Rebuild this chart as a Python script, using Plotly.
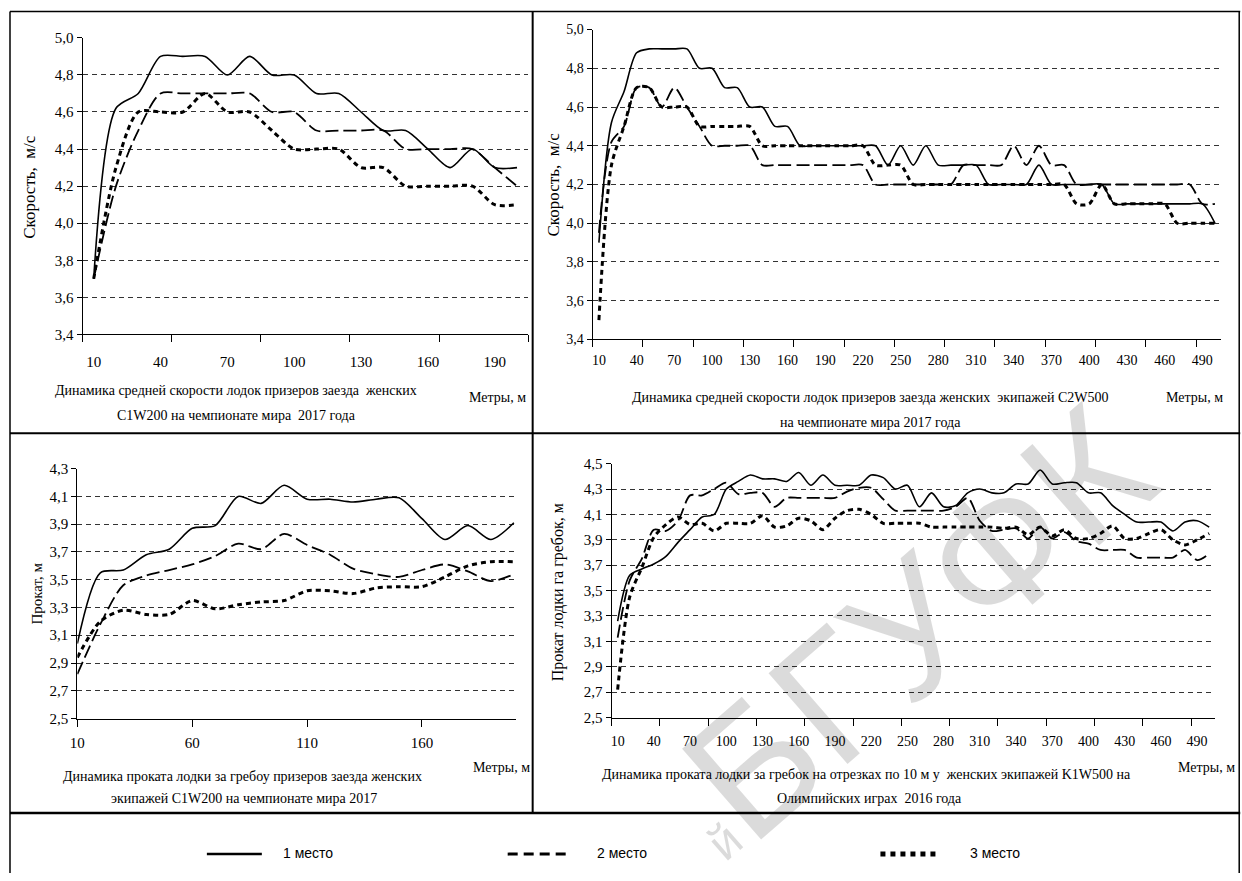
import plotly.graph_objects as go

W, H = 1242, 881

# ---------------- data ----------------
# Panel 1: C1W200 speed, m/s
p1_dist = list(range(10, 201, 10))
p1_place1 = [3.70, 4.62, 4.70, 4.90, 4.90, 4.90, 4.80, 4.90, 4.80, 4.80,
             4.70, 4.70, 4.60, 4.50, 4.50, 4.40, 4.30, 4.40, 4.30, 4.30]
p1_place2 = [3.70, 4.20, 4.50, 4.70, 4.70, 4.70, 4.70, 4.70, 4.60, 4.60,
             4.50, 4.50, 4.50, 4.50, 4.40, 4.40, 4.40, 4.40, 4.30, 4.20]
p1_place3 = [3.70, 4.30, 4.60, 4.60, 4.60, 4.70, 4.60, 4.60, 4.50, 4.40,
             4.40, 4.40, 4.30, 4.30, 4.20, 4.20, 4.20, 4.20, 4.10, 4.10]
p1_ticks = [10, 40, 70, 100, 130, 160, 190]

# Panel 2: C2W500 speed, m/s
p2_dist = list(range(10, 501, 10))
p2_place1 = [3.90, 4.52, 4.68, 4.88, 4.90, 4.90, 4.90, 4.90, 4.80, 4.80,
             4.70, 4.70, 4.60, 4.60, 4.50, 4.50, 4.40, 4.40, 4.40, 4.40,
             4.40, 4.40, 4.40, 4.30, 4.40, 4.30, 4.40, 4.30, 4.30, 4.30,
             4.30, 4.20, 4.20, 4.20, 4.20, 4.30, 4.20, 4.20, 4.20, 4.20,
             4.20, 4.10, 4.10, 4.10, 4.10, 4.10, 4.10, 4.10, 4.10, 4.00]
p2_place2 = [3.95, 4.42, 4.50, 4.70, 4.70, 4.60, 4.70, 4.60, 4.50, 4.40,
             4.40, 4.40, 4.40, 4.30, 4.30, 4.30, 4.30, 4.30, 4.30, 4.30,
             4.30, 4.30, 4.20, 4.20, 4.20, 4.20, 4.20, 4.20, 4.20, 4.30,
             4.30, 4.30, 4.30, 4.40, 4.30, 4.40, 4.30, 4.30, 4.20, 4.20,
             4.20, 4.20, 4.20, 4.20, 4.20, 4.20, 4.20, 4.20, 4.10, 4.10]
p2_place3 = [3.50, 4.30, 4.50, 4.70, 4.70, 4.60, 4.60, 4.60, 4.50, 4.50,
             4.50, 4.50, 4.50, 4.40, 4.40, 4.40, 4.40, 4.40, 4.40, 4.40,
             4.40, 4.40, 4.30, 4.30, 4.30, 4.20, 4.20, 4.20, 4.20, 4.20,
             4.20, 4.20, 4.20, 4.20, 4.20, 4.20, 4.20, 4.20, 4.10, 4.10,
             4.20, 4.10, 4.10, 4.10, 4.10, 4.10, 4.00, 4.00, 4.00, 4.00]
p2_ticks = [10, 40, 70, 100, 130, 160, 190, 220, 250, 280, 310, 340, 370,
            400, 430, 460, 490]

# Panel 3: C1W200 distance per stroke, m
p3_dist = list(range(10, 201, 10))
p3_place1 = [3.04, 3.55, 3.57, 3.68, 3.72, 3.87, 3.89, 4.10, 4.05, 4.18,
             4.08, 4.08, 4.06, 4.08, 4.09, 3.94, 3.79, 3.89, 3.79, 3.91]
p3_place2 = [2.82, 3.18, 3.46, 3.53, 3.57, 3.61, 3.67, 3.76, 3.72, 3.83,
             3.75, 3.68, 3.58, 3.54, 3.52, 3.57, 3.61, 3.56, 3.49, 3.54]
p3_place3 = [2.94, 3.20, 3.28, 3.25, 3.25, 3.35, 3.29, 3.32, 3.34, 3.35,
             3.42, 3.42, 3.40, 3.44, 3.45, 3.45, 3.52, 3.60, 3.63, 3.63]
p3_ticks = [10, 60, 110, 160]

# Panel 4: K1W500 distance per stroke, m
p4_dist = list(range(10, 501, 10))
p4_place1 = [3.26, 3.62, 3.67, 3.71, 3.77, 3.88, 3.98, 4.08, 4.10, 4.30,
             4.36, 4.41, 4.38, 4.38, 4.36, 4.43, 4.33, 4.41, 4.33, 4.33,
             4.33, 4.41, 4.39, 4.30, 4.33, 4.16, 4.27, 4.16, 4.17, 4.27,
             4.30, 4.27, 4.27, 4.34, 4.34, 4.45, 4.34, 4.35, 4.35, 4.27,
             4.27, 4.17, 4.10, 4.04, 4.04, 4.04, 3.97, 4.04, 4.05, 4.00]
p4_place2 = [3.13, 3.58, 3.75, 3.98, 3.97, 4.05, 4.25, 4.25, 4.30, 4.35,
             4.26, 4.27, 4.27, 4.16, 4.23, 4.23, 4.23, 4.23, 4.23, 4.28,
             4.31, 4.31, 4.22, 4.13, 4.13, 4.13, 4.13, 4.13, 4.16, 4.23,
             4.05, 3.97, 3.98, 3.99, 3.91, 4.00, 3.91, 3.96, 3.89, 3.87,
             3.82, 3.82, 3.82, 3.76, 3.76, 3.76, 3.76, 3.82, 3.74, 3.79]
p4_place3 = [2.72, 3.45, 3.68, 3.92, 4.02, 4.08, 4.02, 4.03, 3.97, 4.03,
             4.03, 4.03, 4.09, 4.00, 4.01, 4.07, 4.05, 3.98, 4.07, 4.13,
             4.14, 4.10, 4.03, 4.03, 4.03, 4.03, 4.00, 4.00, 4.00, 4.00,
             4.00, 4.00, 3.99, 4.00, 3.94, 4.00, 3.93, 3.98, 3.91, 3.91,
             3.95, 4.01, 3.91, 3.91, 3.95, 3.98, 3.90, 3.86, 3.90, 3.95]
p4_ticks = p2_ticks

legend_names = ["1 место", "2 место", "3 место"]

# ---------------- helpers (target picture pixels -> paper fractions) ----------------
SX, OX = 0.995, 6.0
SY, OY = 0.98, 8.5


def fx(x):
    p = (x - OX) / SX
    return min(max(p / W, 0.0), 1.0)


def fy(y):
    p = (y - OY) / SY
    return min(max(1 - p / H, 0.0), 1.0)


SERIF = "Liberation Serif"
NARROW = "Liberation Sans Narrow, Liberation Sans"

styles = [
    dict(color="black", width=1.6, dash="solid"),
    dict(color="black", width=1.8, dash="13px,5px"),
    dict(color="black", width=3.0, dash="5px,4px"),
]

fig = go.Figure()

panels = [
    (p1_dist, [p1_place1, p1_place2, p1_place3], "x", "y"),
    (p2_dist, [p2_place1, p2_place2, p2_place3], "x2", "y2"),
    (p3_dist, [p3_place1, p3_place2, p3_place3], "x3", "y3"),
    (p4_dist, [p4_place1, p4_place2, p4_place3], "x4", "y4"),
]
for dist, series, xa, ya in panels:
    for k, vals in enumerate(series):
        st = styles[k]
        fig.add_trace(go.Scatter(
            x=dist, y=vals, xaxis=xa, yaxis=ya, mode="lines",
            name=legend_names[k], showlegend=False, hoverinfo="skip",
            line=dict(color=st["color"], width=st["width"], dash=st["dash"],
                      shape="spline", smoothing=0.8),
        ))

grid = dict(showgrid=True, gridcolor="#333333", gridwidth=1, griddash="5px,4px")


def yaxis_cfg(dom_top, dom_bot, rng, size, anchor):
    return dict(domain=[fy(dom_bot), fy(dom_top)], range=rng, anchor=anchor,
                tickmode="linear", tick0=rng[0], dtick=0.2, tickformat=".1f",
                ticks="outside", ticklen=5, tickcolor="black",
                showline=True, linecolor="black", linewidth=1, zeroline=False,
                tickfont=dict(family=SERIF, size=size, color="black"),
                **grid)


def xaxis_cfg(dom_l, dom_r, rng, tickvals, size, anchor, tick0, dtick, standoff):
    return dict(domain=[fx(dom_l), fx(dom_r)], range=rng, anchor=anchor,
                tickmode="array", tickvals=tickvals,
                ticktext=[str(v) for v in tickvals],
                showline=True, linecolor="black", linewidth=1, zeroline=False,
                showgrid=False, ticks="",
                minor=dict(ticks="outside", ticklen=7, tickcolor="black",
                           tickmode="linear", tick0=tick0, dtick=dtick,
                           showgrid=False),
                tickfont=dict(family=SERIF, size=size, color="black"),
                ticklabelstandoff=standoff)


fig.update_layout(
    width=W, height=H, autosize=False,
    margin=dict(l=0, r=0, t=0, b=0),
    paper_bgcolor="white", plot_bgcolor="white",
    separators=", ",
    showlegend=False,
    xaxis=xaxis_cfg(81.6, 527.5, [5, 205], p1_ticks, 15, "y", 5, 40, 14),
    yaxis=yaxis_cfg(38.3, 334.3, [3.4, 5.0], 15, "x"),
    xaxis2=xaxis_cfg(592, 1221, [5, 505], p2_ticks, 14, "y2", 5, 40, 8),
    yaxis2=yaxis_cfg(30, 339.3, [3.4, 5.0], 14, "x2"),
    xaxis3=xaxis_cfg(76.4, 515.5, [10, 201], p3_ticks, 15, "y3", 10, 50, 10),
    yaxis3=yaxis_cfg(468.3, 717.7, [2.5, 4.3], 15, "x3"),
    xaxis4=xaxis_cfg(611, 1215, [5, 505], p4_ticks, 14, "y4", 5, 40, 11),
    yaxis4=yaxis_cfg(463.3, 716.7, [2.5, 4.5], 15, "x4"),
)

# ---------------- frame lines ----------------
def hline(y, x0, x1, w=1.5):
    fig.add_shape(type="line", xref="paper", yref="paper",
                  x0=fx(x0), x1=fx(x1), y0=fy(y), y1=fy(y),
                  line=dict(color="black", width=w))


def vline(x, y0, y1, w=1.5):
    fig.add_shape(type="line", xref="paper", yref="paper",
                  x0=fx(x), x1=fx(x), y0=fy(y0), y1=fy(y1),
                  line=dict(color="black", width=w))


hline(12, 9, 1240, 1.5)
hline(433, 9, 1240, 2)
hline(812, 9, 1240, 2.5)
vline(9, 12, 881, 1.5)
vline(1239, 12, 881, 1.5)
vline(532, 12, 812, 2)

# ---------------- legend row ----------------
legend_samples = [
    (206, 261, dict(color="black", width=2.5, dash="solid"), 280),
    (507, 567, dict(color="black", width=3, dash="10px,6px"), 594),
    (880, 939, dict(color="black", width=5, dash="5px,5px"), 968),
]
for (x0, x1, ln, tx), name in zip(legend_samples, legend_names):
    fig.add_shape(type="line", xref="paper", yref="paper",
                  x0=fx(x0), x1=fx(x1), y0=fy(853), y1=fy(853), line=ln)
    fig.add_annotation(x=fx(tx), y=fy(852), xref="paper", yref="paper",
                       text=name, showarrow=False, xanchor="left", yanchor="middle",
                       font=dict(family=NARROW, size=14, color="black"))

# ---------------- texts ----------------
def note(text, x, y, size=14, angle=0, anchor="center", family=SERIF):
    fig.add_annotation(x=fx(x), y=fy(y), xref="paper", yref="paper", text=text,
                       showarrow=False, xanchor=anchor, yanchor="middle",
                       textangle=angle,
                       font=dict(family=family, size=size, color="black"))


# y-axis titles
note("Скорость,  м/с", 29, 187, size=17, angle=-90)
note("Скорость,  м/с", 553, 185, size=17, angle=-90)
note("Прокат, м", 36, 593, size=15, angle=-90)
note("Прокат лодки га гребок, м", 557, 592, size=16, angle=-90)

# captions
note("Динамика средней скорости лодок призеров заезда  женских", 235, 390)
note("C1W200 на чемпионате мира  2017 года", 236, 415)
note("Метры, м", 527, 397, anchor="right")
note("Динамика средней скорости лодок призеров заезда женских  экипажей C2W500", 870, 397)
note("на чемпионате мира 2017 года", 870, 422)
note("Метры, м", 1225, 397, anchor="right")
note("Динамика проката лодки за гребоу призеров заезда женских", 242, 776)
note("экипажей C1W200 на чемпионате мира 2017", 243, 798)
note("Метры, м", 531, 767, anchor="right")
note("Динамика проката лодки за гребок на отрезках по 10 м у  женских экипажей K1W500 на", 866, 774)
note("Олимпийских играх  2016 года", 869, 798)
note("Метры, м", 1237, 767, anchor="right")

# watermark
wm_color = "rgba(0,0,0,0.14)"
fig.add_annotation(x=fx(918), y=fy(622), xref="paper", yref="paper", text="БГУФК",
                   showarrow=False, xanchor="center", yanchor="middle", textangle=-41,
                   font=dict(family="Liberation Sans", size=175, color=wm_color))
fig.add_annotation(x=fx(724), y=fy(840), xref="paper", yref="paper", text="й",
                   showarrow=False, xanchor="center", yanchor="middle", textangle=-41,
                   font=dict(family="Liberation Sans", size=48, color=wm_color))

fig.write_html(
    "out.html",
    config={"displayModeBar": False, "staticPlot": True},
    post_script="document.body.style.margin='0px';document.body.style.overflow='hidden';",
)
